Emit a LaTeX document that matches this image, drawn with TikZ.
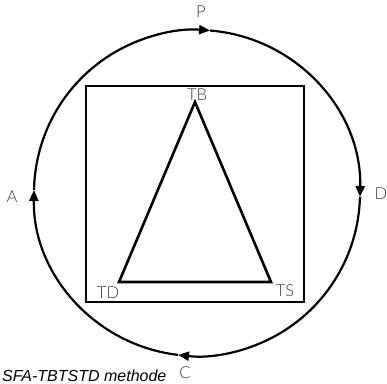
\documentclass[tikz,border=0pt]{standalone}
\usepackage{fontspec}
\setmainfont{Liberation Sans}
\newfontfamily\lightfont{Lato Light}
\usetikzlibrary{arrows.meta}
\definecolor{labelgray}{RGB}{60,60,60}

\begin{document}
\begin{tikzpicture}[x=1pt,y=1pt,
  lbl/.style={text=labelgray,font=\lightfont\fontsize{16.5}{16.5}\selectfont,inner sep=0pt},
  cyc/.style={line width=2.2pt,-{Triangle[length=11pt,width=9pt]}},
  frame/.style={line width=2.6pt}]
\useasboundingbox (0,0) rectangle (387,383);

% cycle P -> D -> C -> A
\coordinate (O) at (197,190);
\foreach \a/\b in {178.9/85.4,85.4/-1.4,-1.4/-96.7,-96.7/-181.1}{
  \draw[cyc] ([shift={(\a:163)}]O) arc[start angle=\a,end angle=\b,radius=163];
}
\node[lbl] (P) at (201,371) {P};
\node[lbl] (D) at (381,189) {D};
\node[lbl] (C) at (185,10) {C};
\node[lbl] (A) at (12,186) {A};

% box and triangle
\draw[frame] (86,81) rectangle (304,297);
\coordinate (tb) at (195,281);
\coordinate (ts) at (271,101);
\coordinate (td) at (119,101);
\draw[frame,line join=miter] (tb) -- (ts) -- (td) -- cycle;
\node[lbl] (TB) at (197,288) {TB};
\node[lbl] (TS) at (285,92) {TS};
\node[lbl] (TD) at (108,90) {TD};

\node[anchor=base west,inner sep=0pt,font=\itshape\fontsize{16}{16}\selectfont] (title) at (2,2) {SFA-TBTSTD methode};

\end{tikzpicture}
\end{document}
